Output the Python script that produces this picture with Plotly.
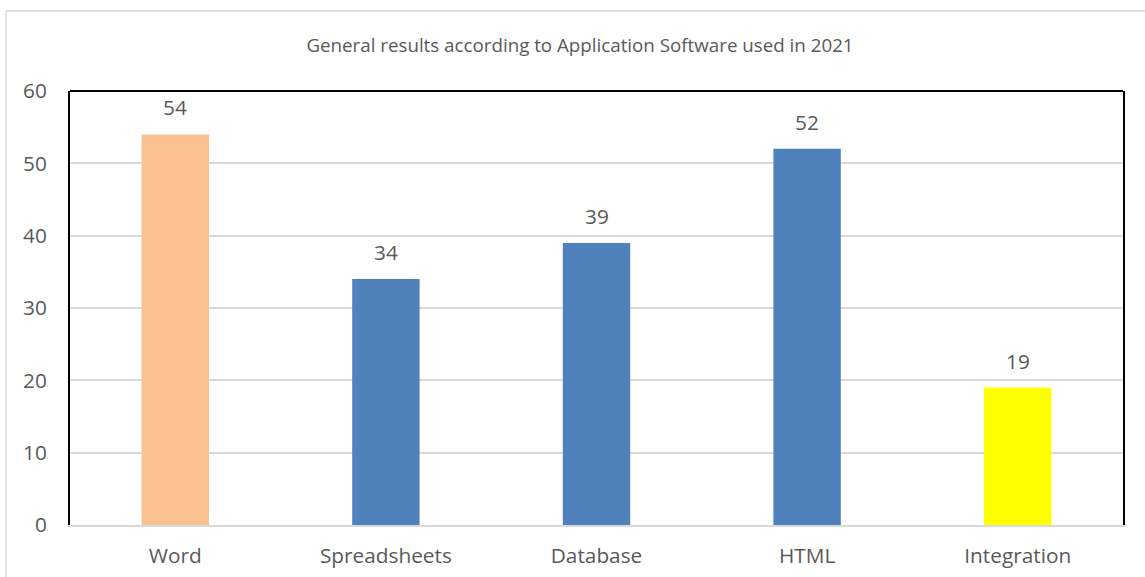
import plotly.graph_objects as go

categories = ["Word", "Spreadsheets", "Database", "HTML", "Integration"]
values = [54, 34, 39, 52, 19]
colors = ["#F8C18F", "#4F81BD", "#4F81BD", "#4F81BD", "#FFFF00"]
y_ticks = [0, 10, 20, 30, 40, 50, 60]
title_text = "General results according to Application Software used in 2021"

FONT = "Open Sans, Noto Sans, Liberation Sans, sans-serif"
GRAY = "#595959"

fig = go.Figure()
fig.add_trace(go.Bar(x=categories, y=values, marker=dict(color=colors, line=dict(width=0)),
                     width=0.32, hoverinfo="skip"))

for c, v in zip(categories, values):
    fig.add_annotation(x=c, y=v, text=str(v), showarrow=False, yanchor="bottom",
                       yshift=11, font=dict(family=FONT, size=20.8, color=GRAY))

shapes = [
    # outer chart border
    dict(type="rect", xref="paper", yref="paper", x0=-0.0608, x1=1.2, y0=-0.5, y1=1.1843,
         line=dict(color="#D9D9D9", width=1.5), layer="below"),
    # top black border of plot area
    dict(type="line", xref="paper", yref="paper", x0=0, x1=1, y0=1, y1=1,
         line=dict(color="black", width=2)),
]

fig.update_layout(
    width=1145, height=577,
    margin=dict(l=70, r=22, t=91, b=52, autoexpand=False),
    paper_bgcolor="white", plot_bgcolor="white",
    title=dict(text=title_text, x=580 / 1145, xanchor="center", y=1 - 45 / 577, yanchor="middle",
               font=dict(family=FONT, size=18.75, color=GRAY)),
    showlegend=False,
    shapes=shapes,
    xaxis=dict(showgrid=False, showline=True, linecolor="#D9D9D9", linewidth=2, automargin=False,
               tickfont=dict(family=FONT, size=20.8, color=GRAY), ticks="", ticklabelstandoff=11),
    yaxis=dict(range=[0, 60], tickvals=y_ticks, showgrid=True, gridcolor="#D9D9D9", gridwidth=1.5,
               showline=True, linecolor="black", linewidth=2, mirror=True, zeroline=False,
               automargin=False,
               tickfont=dict(family=FONT, size=20.8, color=GRAY), ticks="", ticklabelstandoff=17),
)

fig.write_html("out.html", config={"displayModeBar": False},
               post_script="document.body.style.margin='0';document.documentElement.style.overflow='hidden';")
